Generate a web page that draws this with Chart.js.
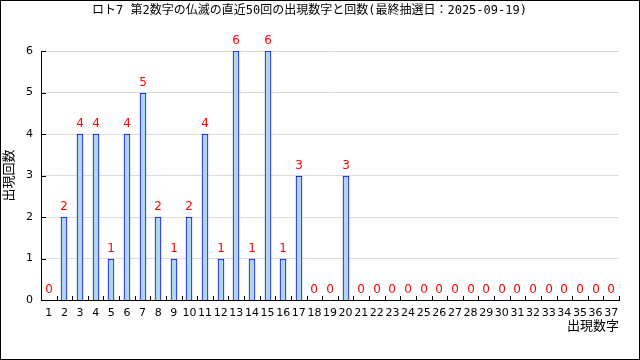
<!DOCTYPE html>
<html><head><meta charset="utf-8">
<script src="https://cdn.jsdelivr.net/npm/chart.js@4"></script>
<style>html,body{margin:0;padding:0;background:#fff}#wrap{width:640px;height:360px}</style>
</head><body><div id="wrap"><canvas id="c" width="640" height="360"></canvas></div>
<script>
const titleText = 'ロト7 第2数字の仏滅の直近50回の出現数字と回数(最終抽選日：2025-09-19)';
const numbers = ['1','2','3','4','5','6','7','8','9','10','11','12','13','14','15','16','17','18','19','20','21','22','23','24','25','26','27','28','29','30','31','32','33','34','35','36','37'];
const counts = [0,2,4,4,1,4,5,2,1,2,4,1,6,1,6,1,3,0,0,3,0,0,0,0,0,0,0,0,0,0,0,0,0,0,0,0,0];
const yTicks = [0,1,2,3,4,5,6];
const xTitle = '出現数字';
const yTitle = '出現回数';

const deco = {
  id: 'deco',
  beforeDraw(chart) {
    const ctx = chart.ctx;
    ctx.save();
    ctx.fillStyle = '#fff';
    ctx.fillRect(0, 0, chart.width, chart.height);
    ctx.restore();
  },
  beforeDatasetsDraw(chart) {
    // snap bars to whole pixels for crisp edges
    chart.getDatasetMeta(0).data.forEach(el => {
      el.x = Math.round(el.x);
      el.y = Math.round(el.y);
      el.base = Math.round(el.base);
    });
  },
  afterDraw(chart) {
    const ctx = chart.ctx, xs = chart.scales.x, ys = chart.scales.y, a = chart.chartArea;
    ctx.save();
    ctx.strokeStyle = '#000'; ctx.lineWidth = 1;
    ctx.strokeRect(0.5, 0.5, chart.width - 1, chart.height - 1);
    const step = xs.getPixelForValue(1) - xs.getPixelForValue(0);
    ctx.beginPath();
    for (let i = 0; i <= numbers.length; i++) {
      const px = Math.round(xs.getPixelForValue(i) - step / 2) + 0.5;
      ctx.moveTo(px, a.bottom); ctx.lineTo(px, a.bottom - 4);
    }
    yTicks.forEach(v => {
      const py = Math.round(ys.getPixelForValue(v)) + 0.5;
      ctx.moveTo(a.left, py); ctx.lineTo(a.left + 5, py);
    });
    ctx.stroke();
    ctx.fillStyle = '#ff0000';
    ctx.font = '12px "DejaVu Sans"';
    ctx.textAlign = 'center'; ctx.textBaseline = 'bottom';
    counts.forEach((v, i) => {
      ctx.fillText(String(v), Math.round(xs.getPixelForValue(i)), ys.getPixelForValue(v) - 4);
    });
    ctx.restore();
  }
};

new Chart(document.getElementById('c'), {
  type: 'bar',
  data: {
    labels: numbers,
    datasets: [{
      data: counts,
      backgroundColor: '#add8e6',
      borderColor: '#0000ff',
      borderWidth: 1,
      borderSkipped: 'bottom',
      barThickness: 6
    }]
  },
  options: {
    responsive: false,
    animation: false,
    devicePixelRatio: 1,
    layout: { padding: { left: 0, right: 21, top: 0, bottom: 26 } },
    plugins: {
      legend: { display: false },
      tooltip: { enabled: false },
      title: {
        display: true, text: titleText, color: '#000',
        font: { family: '"DejaVu Sans Mono", "Noto Sans CJK JP"', size: 12, weight: 'normal' },
        padding: { top: 4, bottom: 32.6 }
      }
    },
    scales: {
      x: {
        offset: true,
        grid: { display: false, drawTicks: false },
        border: { display: true, color: '#000', width: 1 },
        ticks: { color: '#000', font: { family: '"DejaVu Sans"', size: 11 }, padding: 7, autoSkip: false, maxRotation: 0 },
        title: { display: true, text: xTitle, align: 'end', color: '#000', font: { family: '"Noto Sans CJK JP"', size: 13 }, padding: { top: 0, bottom: 1 } },
        afterFit(s) { s.height = 34; }
      },
      y: {
        min: 0, max: 6,
        afterBuildTicks(s) { s.ticks = yTicks.map(v => ({ value: v })); },
        grid: { color: '#dcdcdc', drawTicks: false, lineWidth: c => c.tick.value === 0 ? 0 : 1 },
        border: { display: true, color: '#000', width: 1 },
        ticks: { color: '#000', font: { family: '"DejaVu Sans"', size: 11 }, padding: 8 },
        title: { display: true, text: yTitle, color: '#000', font: { family: '"Noto Sans CJK JP"', size: 13 }, padding: { top: 0, bottom: 0 } },
        afterFit(s) { s.width = 41; }
      }
    }
  },
  plugins: [deco]
});
</script></body></html>
